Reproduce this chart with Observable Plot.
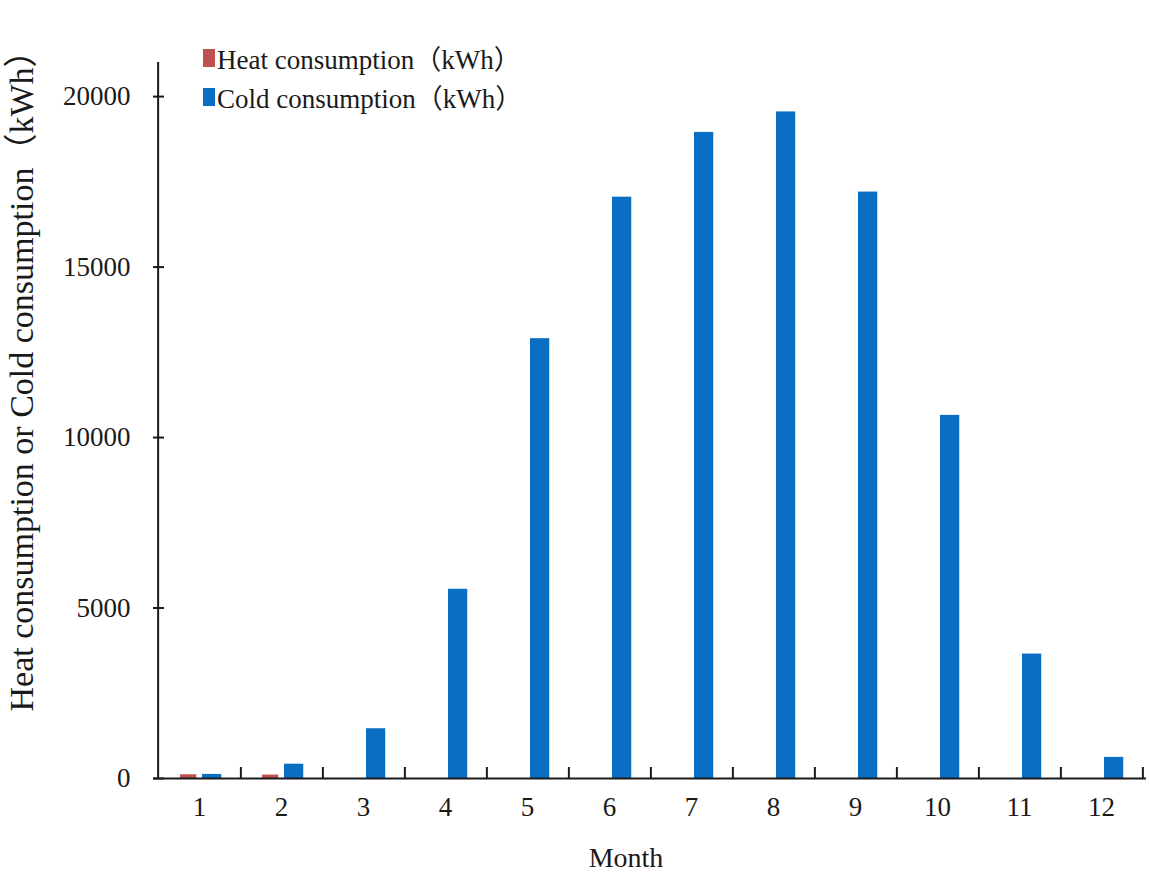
<!DOCTYPE html>
<html>
<head>
<meta charset="utf-8">
<script src="https://cdn.jsdelivr.net/npm/d3@7"></script>
<script src="https://cdn.jsdelivr.net/npm/@observablehq/plot@0.6"></script>
<style>
  html, body { margin: 0; padding: 0; background: #fff; }
  #wrap { position: relative; width: 1149px; height: 880px; }
  #legend { position: absolute; left: 203px; top: 38px; font-family: "Liberation Serif", "Noto Sans CJK SC", serif; font-size: 27px; color: #1a1a1a; }
  #legend .row { display: flex; align-items: center; height: 39px; }
  #legend .sw { width: 12px; height: 18px; margin-right: 2px; }
</style>
</head>
<body>
<div id="wrap"><div id="legend"></div></div>
<script>
// ---- data ----
const months = [1, 2, 3, 4, 5, 6, 7, 8, 9, 10, 11, 12];
const heatValues = [110, 100, 0, 0, 0, 0, 0, 0, 0, 0, 0, 0];
const coldValues = [120, 420, 1460, 5550, 12900, 17050, 18950, 19550, 17200, 10650, 3650, 620];
const seriesNames = ["Heat consumption（kWh）", "Cold consumption（kWh）"];
const seriesColors = ["#C0504D", "#0A6FC2"];
const yTicks = [0, 5000, 10000, 15000, 20000];
const xTitle = ["Month"];
const yTitle = ["Heat consumption or Cold consumption（kWh）"];

// ---- layout ----
const W = 1149, H = 880, mL = 153, mR = 3, mT = 62, mB = 102;
const innerW = W - mL - mR, innerH = H - mT - mB;
const step = innerW / months.length;
const ink = "#1a1a1a";

const heatData = months.map((m, i) => ({month: m, value: heatValues[i]}));
const coldData = months.map((m, i) => ({month: m, value: coldValues[i]}));

const chart = Plot.plot({
  width: W, height: H,
  marginLeft: mL, marginRight: mR, marginTop: mT, marginBottom: mB,
  style: {fontFamily: "'Liberation Serif', 'Noto Sans CJK SC', serif", fontSize: "27px", color: ink, background: "#fff"},
  x: {type: "band", domain: months, paddingInner: 0, paddingOuter: 0, axis: null},
  y: {domain: [0, 21000], axis: null},
  marks: [
    Plot.barY(heatData, {x: "month", y: "value", fill: seriesColors[0], insetLeft: 22, insetRight: step - 39}),
    Plot.barY(coldData, {x: "month", y: "value", fill: seriesColors[1], insetLeft: 44, insetRight: step - 64}),
    Plot.ruleY([0], {stroke: ink, strokeWidth: 2}),
    Plot.ruleX([months[0]], {dx: -step / 2, stroke: ink, strokeWidth: 2}),
    Plot.tickY(yTicks, {y: d => d, insetRight: innerW - 11, stroke: ink, strokeWidth: 2}),
    Plot.tickX(months, {x: d => d, dx: step / 2, insetTop: innerH - 11, stroke: ink, strokeWidth: 2}),
    Plot.axisY({ticks: yTicks, tickFormat: d3.format("d"), tickSize: 0, tickPadding: 23, label: null, fill: ink}),
    Plot.axisX({tickSize: 0, tickPadding: 18, label: null, fill: ink}),
    Plot.text(yTitle, {frameAnchor: "left", textAnchor: "middle", dx: -131, dy: -48, rotate: -90, fontSize: 34, fill: ink}),
    Plot.text(xTitle, {frameAnchor: "bottom", dy: 88, dx: -24, fontSize: 28, fill: ink})
  ]
});
const wrap = document.getElementById("wrap");
wrap.insertBefore(chart, wrap.firstChild);

const legend = document.getElementById("legend");
seriesNames.forEach((name, i) => {
  const row = document.createElement("div");
  row.className = "row";
  const sw = document.createElement("span");
  sw.className = "sw";
  sw.style.background = seriesColors[i];
  const t = document.createElement("span");
  t.textContent = name;
  row.appendChild(sw);
  row.appendChild(t);
  legend.appendChild(row);
});
</script>
</body>
</html>
